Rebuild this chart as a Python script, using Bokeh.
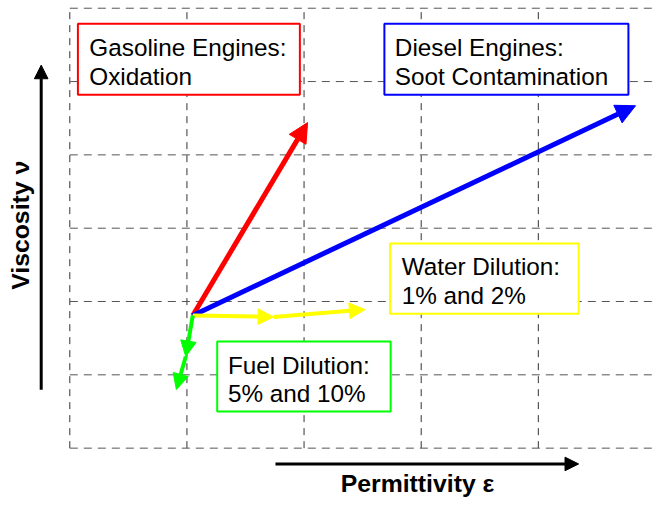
import math
from bokeh.plotting import figure
from bokeh.models import Range1d, Arrow, NormalHead, ColumnDataSource
from bokeh.core.properties import value
from bokeh.embed import file_html
from bokeh.resources import INLINE

# ---------------- data (grid units: x = permittivity, y = viscosity) ----------------
grid_x = [0, 1, 2, 3, 4, 5]
grid_y = [0, 1, 2, 3, 4, 5, 6]

fresh_oil_x = 1.05
fresh_oil_y = 1.81

oxidation_x = [2.03]
oxidation_y = [4.44]

soot_x = [4.83]
soot_y = [4.67]

water_x = [1.74, 2.52]     # 1 % and 2 % water
water_y = [1.79, 1.89]

fuel_x = [0.99, 0.91]      # 5 % and 10 % fuel
fuel_y = [1.25, 0.80]

box_titles = ["Gasoline Engines:", "Diesel Engines:", "Water Dilution:", "Fuel Dilution:"]
box_subtitles = ["Oxidation", "Soot Contamination", "1% and 2%", "5% and 10%"]
box_colors = ["#FF0000", "#0000FF", "#FFFF00", "#00FF00"]

x_label = "Permittivity ε"
y_label = "Viscosity ν"

# ---------------- layout helpers (reference pixels -> grid units) ----------------
W, H = 653, 499
REF_W, REF_H = 669, 515
S = (W / REF_W + H / REF_H) / 2.0
X0, Y0, UX, UY = 71.0, 462.0, 120.0, 75.67
DY = 7.0   # compensation for the renderer's baseline placement (reference px)


def gx(px):
    return (px - X0) / UX


def gy(py):
    return (Y0 - py) / UY


def fs(px):
    return "%.1fpx" % (px * S)


p = figure(width=W, height=H, output_backend="svg", toolbar_location=None,
           x_axis_location=None, y_axis_location=None, min_border=0,
           x_range=Range1d(gx(0), gx(REF_W)),
           y_range=Range1d(gy(REF_H), gy(0)))
p.outline_line_color = None
p.grid.visible = False
p.background_fill_color = "white"
p.border_fill_color = "white"

# dashed grid confined to the grid box
gx0, gx1 = grid_x[0], grid_x[-1]
gy0, gy1 = grid_y[0], grid_y[-1]
p.segment(x0=grid_x, x1=grid_x, y0=[gy0] * len(grid_x), y1=[gy1] * len(grid_x),
          line_color="#333333", line_width=1, line_dash="7 6")
p.segment(x0=[gx0] * len(grid_y), x1=[gx1] * len(grid_y), y0=grid_y, y1=grid_y,
          line_color="#555555", line_width=1, line_dash="8 6")

# labelled boxes (reference-pixel layout)
box_px = [(79.3, 24.0, 306.7, 97.3),
          (393.3, 24.0, 643.3, 97.3),
          (399.0, 250.7, 592.3, 323.3),
          (222.0, 352.0, 399.7, 424.3)]
text_px = [(91.0, 55.0, 85.0),
           (404.0, 55.0, 85.0),
           (411.0, 281.5, 311.5),
           (233.0, 383.5, 413.0)]

p.quad(left=[gx(b[0]) for b in box_px], right=[gx(b[2]) for b in box_px],
       top=[gy(b[1]) for b in box_px], bottom=[gy(b[3]) for b in box_px],
       fill_color="white", line_color=box_colors, line_width=2)

p.text(x=[gx(t[0]) for t in text_px], y=[gy(t[1] - DY) for t in text_px], text=box_titles,
       text_font=value("Liberation Sans"), text_font_size=fs(25), text_color="black",
       text_align="left", text_baseline="alphabetic")
p.text(x=[gx(t[0]) for t in text_px], y=[gy(t[2] - DY) for t in text_px], text=box_subtitles,
       text_font=value("Liberation Sans"), text_font_size=fs(25), text_color="black",
       text_align="left", text_baseline="alphabetic")


def chain(xs, ys, color, width, head):
    sx = [fresh_oil_x] + xs[:-1]
    sy = [fresh_oil_y] + ys[:-1]
    src = ColumnDataSource(dict(x0=sx, y0=sy, x1=xs, y1=ys))
    p.add_layout(Arrow(source=src, x_start="x0", y_start="y0", x_end="x1", y_end="y1",
                       line_color=color, line_width=width,
                       end=NormalHead(size=head * S, fill_color=color, line_color=color,
                                      line_width=1)))


chain(oxidation_x, oxidation_y, "#FF0000", 5, 20)
chain(soot_x, soot_y, "#0000FF", 5, 20)
chain(water_x, water_y, "#FFFF00", 4, 16)
chain(fuel_x, fuel_y, "#00FF00", 4, 16)

# axis arrows
p.add_layout(Arrow(x_start=gx(41.7), y_start=gy(401.7), x_end=gx(41.7), y_end=gy(66.7),
                   line_color="black", line_width=3,
                   end=NormalHead(size=14 * S, fill_color="black", line_color="black", line_width=1)))
p.add_layout(Arrow(x_start=gx(281.7), y_start=gy(478.3), x_end=gx(592.3), y_end=gy(478.3),
                   line_color="black", line_width=3,
                   end=NormalHead(size=14 * S, fill_color="black", line_color="black", line_width=1)))

p.text(x=[gx(348.5)], y=[gy(506.0 - DY)], text=[x_label],
       text_font=value("Liberation Sans"), text_font_size=fs(25.5), text_font_style="bold",
       text_color="black", text_align="left", text_baseline="alphabetic")
p.text(x=[gx(28.0 - DY)], y=[gy(232.0)], text=[y_label], angle=math.pi / 2,
       text_font=value("Liberation Sans"), text_font_size=fs(25.5), text_font_style="bold",
       text_color="black", text_align="center", text_baseline="alphabetic")

open("out.html", "w").write(file_html(p, INLINE))
